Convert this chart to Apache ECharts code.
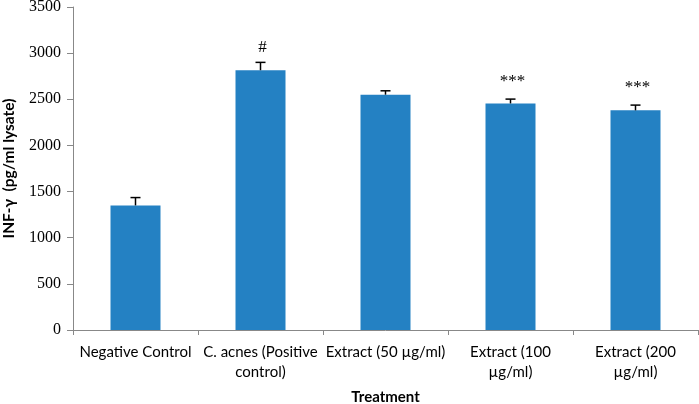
<!DOCTYPE html>
<html>
<head>
<meta charset="utf-8">
<script src="https://cdn.jsdelivr.net/npm/echarts@6/dist/echarts.min.js"></script>
<style>html,body{margin:0;padding:0;background:#fff}#c{width:699px;height:404px}</style>
</head>
<body>
<div id="c"></div>
<script>
var categories = ['Negative Control', 'C. acnes (Positive\ncontrol)', 'Extract (50 µg/ml)', 'Extract (100\nµg/ml)', 'Extract (200\nµg/ml)'];
var means = [1350, 2815, 2550, 2455, 2380];
var errors = [85, 85, 42, 47, 57];
var marks = ['', '#', '', '***', '***'];
var yTicks = [0, 500, 1000, 1500, 2000, 2500, 3000, 3500];

var chart = echarts.init(document.getElementById('c'));
var errData = means.map(function (m, i) { return [i, m, m + errors[i], marks[i]]; });

chart.setOption({
  animation: false,
  grid: { left: 73, right: 1, top: 7, bottom: 74, containLabel: false, outerBoundsMode: 'none' },
  xAxis: {
    type: 'category',
    data: categories,
    name: 'Treatment',
    nameLocation: 'middle',
    nameGap: 60,
    nameTextStyle: { fontFamily: 'Lato', fontWeight: 'bold', fontSize: 15, color: '#000' },
    axisLine: { lineStyle: { color: '#888', width: 1 } },
    axisTick: { show: true, length: 5, lineStyle: { color: '#888' } },
    axisLabel: { interval: 0, fontFamily: 'Lato', fontSize: 15, color: '#000', lineHeight: 20, margin: 12 }
  },
  yAxis: {
    type: 'value',
    min: yTicks[0],
    max: yTicks[yTicks.length - 1],
    interval: 500,
    name: 'INF-γ  (pg/ml lysate)',
    nameLocation: 'middle',
    nameGap: 56,
    nameTextStyle: { fontFamily: 'Lato', fontWeight: 'bold', fontSize: 15.5, color: '#000' },
    axisLine: { show: true, lineStyle: { color: '#888', width: 1 } },
    axisTick: { show: true, length: 6, lineStyle: { color: '#888' } },
    splitLine: { show: false },
    axisLabel: { fontFamily: 'Liberation Serif', fontSize: 16, color: '#000', margin: 12, formatter: function (v) { return String(v); } }
  },
  series: [
    {
      type: 'bar',
      data: means,
      barWidth: '40%',
      itemStyle: { color: '#2481c3' }
    },
    {
      type: 'custom',
      data: errData,
      z: 10,
      renderItem: function (params, api) {
        var x = api.value(0);
        var p0 = api.coord([x, api.value(1)]);
        var p1 = api.coord([x, api.value(2)]);
        var hw = 5;
        var children = [
          { type: 'line', shape: { x1: p0[0], y1: p0[1], x2: p1[0], y2: p1[1] }, style: { stroke: '#000', lineWidth: 1.5 } },
          { type: 'line', shape: { x1: p1[0] - hw, y1: p1[1], x2: p1[0] + hw, y2: p1[1] }, style: { stroke: '#000', lineWidth: 1.5 } }
        ];
        var t = api.value(3);
        if (t) {
          children.push({
            type: 'text',
            style: {
              text: t, x: p1[0] + 2, y: p1[1] - (t === '#' ? 15 : 18),
              align: 'center', verticalAlign: 'middle',
              fontFamily: 'Liberation Serif', fontSize: 17, fill: '#000'
            }
          });
        }
        return { type: 'group', children: children };
      }
    }
  ]
});
</script>
</body>
</html>
